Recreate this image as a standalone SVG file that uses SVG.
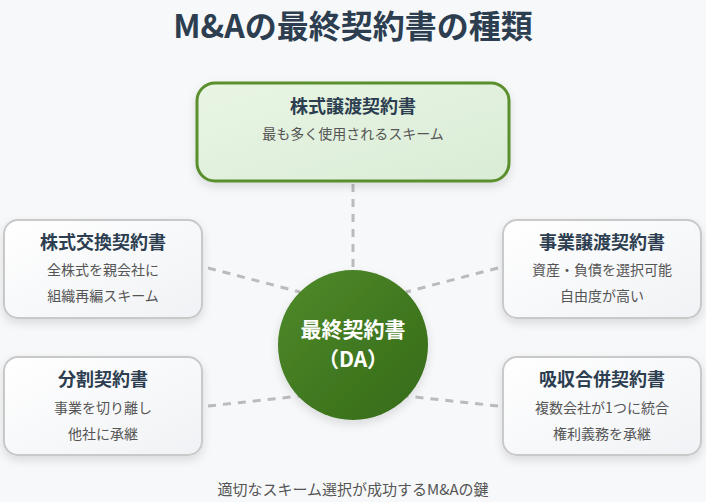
<svg xmlns="http://www.w3.org/2000/svg" width="706" height="502" viewBox="0 0 706 502">
<defs>
<linearGradient id="g1" x1="0" y1="0" x2="1" y2="1"><stop offset="0" stop-color="#e9f5e4"/><stop offset="1" stop-color="#d9ecd6"/></linearGradient>
<linearGradient id="g2" x1="0" y1="0" x2="1" y2="1"><stop offset="0" stop-color="#ffffff"/><stop offset="1" stop-color="#f0f2f5"/></linearGradient>
<linearGradient id="gc" x1="0" y1="0" x2="1" y2="1"><stop offset="0" stop-color="#4f8a2a"/><stop offset="1" stop-color="#356a18"/></linearGradient>
<filter id="sh" x="-20%" y="-20%" width="140%" height="150%"><feDropShadow dx="0" dy="4" stdDeviation="5" flood-color="#000" flood-opacity="0.12"/></filter>
</defs>
<style>
text{font-family:"Noto Sans CJK JP","Noto Sans",sans-serif;text-anchor:middle}
.t{font-size:18px;font-weight:bold;fill:#2c3e50}
.s{font-size:14px;fill:#555}
.box{fill:url(#g2);stroke:#c9c9c9;stroke-width:2;filter:url(#sh)}
.ln{stroke:#bbb;stroke-width:3;stroke-dasharray:8,7;fill:none}
</style>
<rect width="706" height="502" fill="#f7f8fa"/>
<text x="353" y="38" style="font-size:32px;font-weight:bold;fill:#2c3e50">M&amp;Aの最終契約書の種類</text>
<g id="connectors">
<line class="ln" x1="353" y1="184" x2="353" y2="270"/>
<line class="ln" x1="208" y1="268" x2="300" y2="292"/>
<line class="ln" x1="498" y1="268" x2="406" y2="292"/>
<line class="ln" x1="208" y1="406" x2="300" y2="396"/>
<line class="ln" x1="498" y1="406" x2="406" y2="396"/>
</g>
<g id="n-top"><rect x="197" y="83" width="312" height="98" rx="18" fill="url(#g1)" stroke="#5a8f2e" stroke-width="3" filter="url(#sh)"/>
<text class="t" x="353" y="113">株式譲渡契約書</text><text class="s" x="353" y="139">最も多く使用されるスキーム</text></g>
<g id="n-l1"><rect class="box" x="4" y="220" width="198" height="98" rx="14"/>
<text class="t" x="103" y="249">株式交換契約書</text><text class="s" x="103" y="275">全株式を親会社に</text><text class="s" x="103" y="301">組織再編スキーム</text></g>
<g id="n-r1"><rect class="box" x="503" y="220" width="198" height="98" rx="14"/>
<text class="t" x="602" y="249">事業譲渡契約書</text><text class="s" x="602" y="275">資産・負債を選択可能</text><text class="s" x="602" y="301">自由度が高い</text></g>
<g id="n-l2"><rect class="box" x="4" y="357" width="198" height="98" rx="14"/>
<text class="t" x="103" y="386">分割契約書</text><text class="s" x="103" y="413">事業を切り離し</text><text class="s" x="103" y="439">他社に承継</text></g>
<g id="n-r2"><rect class="box" x="503" y="357" width="198" height="98" rx="14"/>
<text class="t" x="602" y="386">吸収合併契約書</text><text class="s" x="602" y="413">複数会社が1つに統合</text><text class="s" x="602" y="439">権利義務を承継</text></g>
<g id="n-center"><circle cx="353" cy="345" r="75" fill="url(#gc)" filter="url(#sh)"/>
<text x="353" y="337" style="font-size:21px;font-weight:bold;fill:#fff">最終契約書</text>
<text x="353" y="367" style="font-size:21px;font-weight:bold;fill:#fff">（DA）</text></g>
<text x="353" y="495" style="font-size:15px;fill:#555">適切なスキーム選択が成功するM&amp;Aの鍵</text>
</svg>
